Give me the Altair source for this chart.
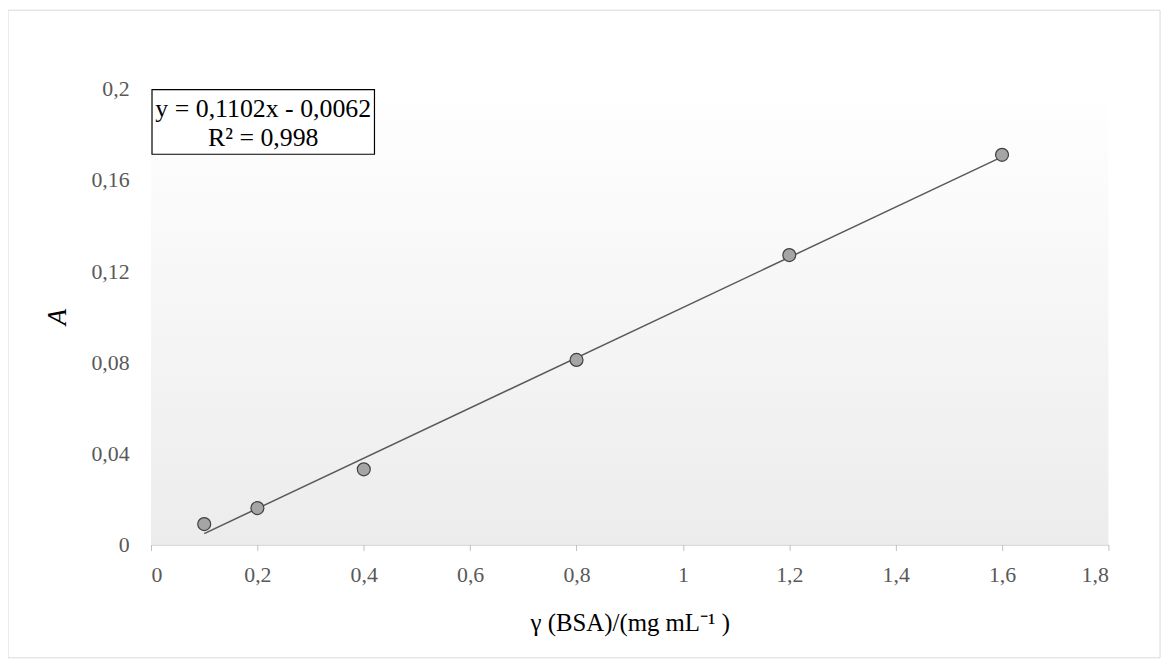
import altair as alt
import pandas as pd

conc = [0.1, 0.2, 0.4, 0.8, 1.2, 1.6]
absorb = [0.009, 0.016, 0.033, 0.081, 0.127, 0.171]
slope, intercept = 0.1102, -0.0062
fit_x = [0.1, 1.6]

pts = pd.DataFrame({"x": conc, "y": absorb})
fit = pd.DataFrame({"x": fit_x, "y": [slope * v + intercept for v in fit_x]})

W, H = 964, 459
FONT = "Liberation Serif"
xs = alt.Scale(domain=[0, 1.8], nice=False)
ys = alt.Scale(domain=[0, 0.2], nice=False)

bg = alt.Chart(pd.DataFrame({"a": [0]})).mark_rect(
    fill=alt.Gradient(gradient="linear", x1=0, x2=0, y1=0, y2=1,
                      stops=[alt.GradientStop(color="#ffffff", offset=0),
                             alt.GradientStop(color="#ececec", offset=1)])
).encode(x=alt.value(0), x2=alt.value(W), y=alt.value(0), y2=alt.value(H))

border = alt.Chart(pd.DataFrame({"a": [0]})).mark_rect(
    fill=None, stroke="#d9d9d9", strokeWidth=1
).encode(x=alt.value(-144), x2=alt.value(W + 52), y=alt.value(-79), y2=alt.value(H + 114))

line = alt.Chart(fit).mark_line(color="#595959", strokeWidth=1.5).encode(
    x=alt.X("x:Q", scale=xs,
            axis=alt.Axis(values=[0, 0.2, 0.4, 0.6, 0.8, 1, 1.2, 1.4, 1.6, 1.8],
                          labelExpr="replace(format(datum.value, '.2~f'), '.', ',')",
                          title="γ (BSA)/(mg mL⁻¹ )", grid=False, domainColor="#bfbfbf",
                          tickColor="#bfbfbf", tickSize=6, labelFont=FONT, labelFontSize=22,
                          labelColor="#595959", titleFont=FONT, titleFontSize=25,
                          titleFontWeight="normal", titleColor="#000000", titlePadding=26,
                          labelPadding=14)),
    y=alt.Y("y:Q", scale=ys,
            axis=alt.Axis(values=[0, 0.04, 0.08, 0.12, 0.16, 0.2],
                          labelExpr="replace(format(datum.value, '.2~f'), '.', ',')",
                          title="A", grid=False, domain=False, ticks=False,
                          labelFont=FONT, labelFontSize=22, labelColor="#595959",
                          titleFont=FONT, titleFontSize=27, titleFontStyle="italic",
                          titleFontWeight="normal", titleColor="#000000", titlePadding=20,
                          labelPadding=22)),
)

points = alt.Chart(pts).mark_point(filled=True, fill="#a5a5a5", stroke="#404040",
                                   strokeWidth=1.2, size=170, opacity=1).encode(
    x=alt.X("x:Q", scale=xs), y=alt.Y("y:Q", scale=ys))

box = alt.Chart(pd.DataFrame({"a": [0]})).mark_rect(
    fill="white", stroke="black", strokeWidth=1.2
).encode(x=alt.value(1), x2=alt.value(225), y=alt.value(1), y2=alt.value(66))

eq = alt.Chart(pd.DataFrame({"t": ["y = 0,1102x - 0,0062", "R² = 0,998"], "py": [20, 50]})).mark_text(
    font=FONT, fontSize=26, color="black").encode(
    text="t:N", x=alt.value(113), y=alt.Y("py:Q", scale=None))

chart = alt.layer(bg, border, line, points, box, eq).properties(
    width=W, height=H,
    autosize=alt.AutoSizeParams(type="none"),
    padding={"left": 144, "top": 79, "right": 60, "bottom": 120},
).configure_view(stroke=None)

chart.save("out.html", embed_options={"renderer": "svg", "actions": False})
